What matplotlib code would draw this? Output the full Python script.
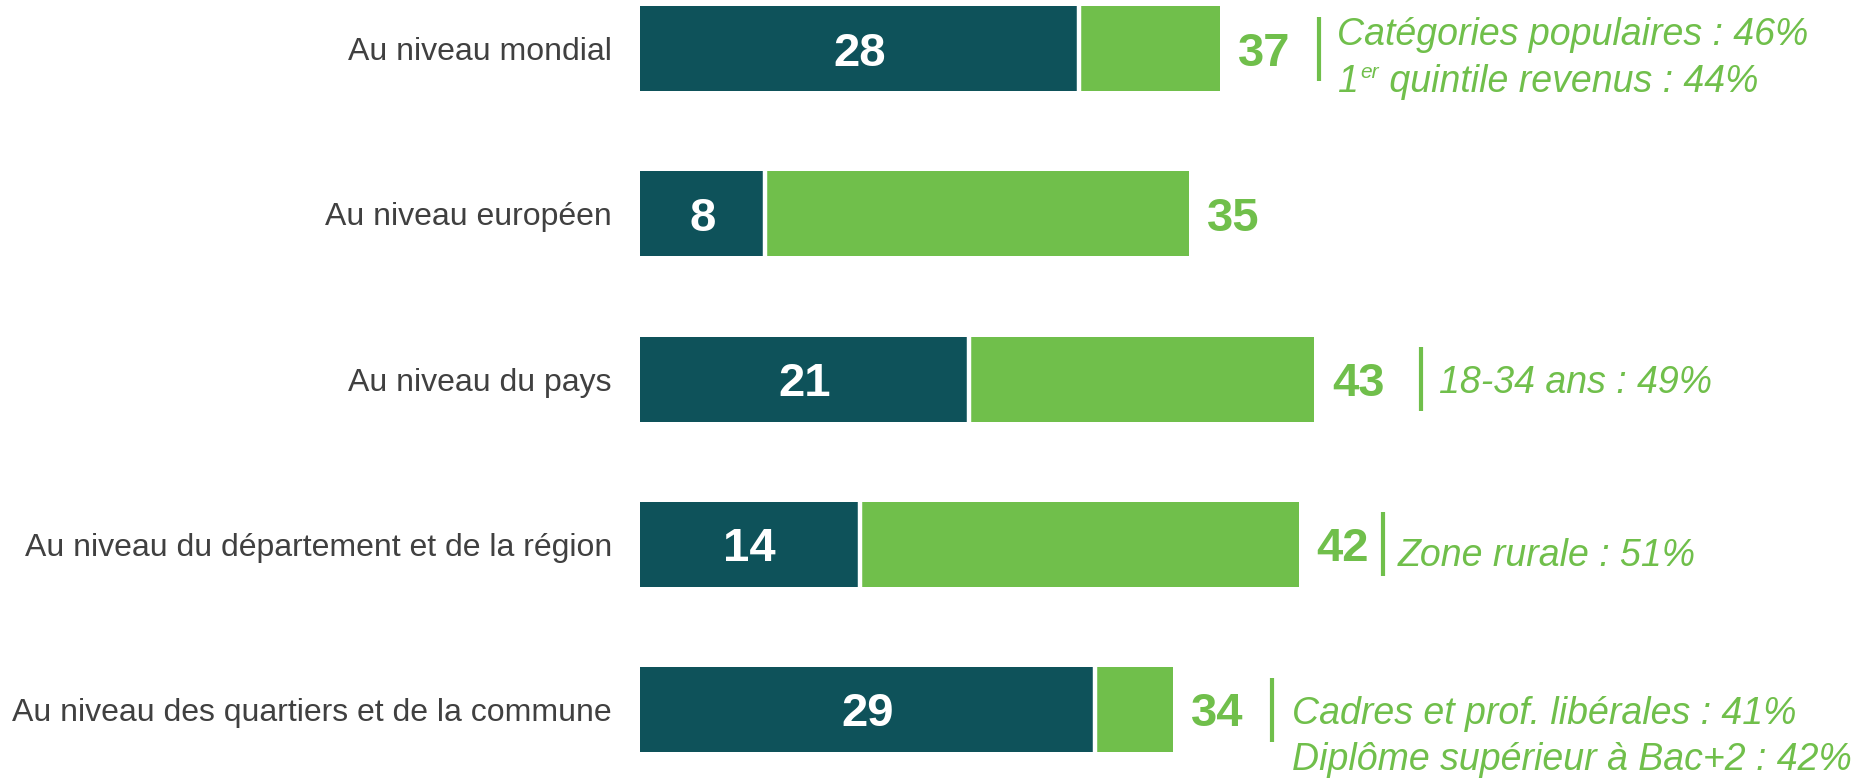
import matplotlib
matplotlib.use("Agg")
import matplotlib.pyplot as plt
from matplotlib.transforms import offset_copy

plt.rcParams['font.family'] = ['Liberation Sans', 'DejaVu Sans']

# ---- data ----
categories = [
    "Au niveau mondial",
    "Au niveau européen",
    "Au niveau du pays",
    "Au niveau du département et de la région",
    "Au niveau des quartiers et de la commune",
]
dark_values = [28, 8, 21, 14, 29]
total_values = [37, 35, 43, 42, 34]
green_values = [t - d for t, d in zip(total_values, dark_values)]
notes = [
    ["Catégories populaires : 46%", "1|er| quintile revenus : 44%"],
    [],
    ["18-34 ans : 49%"],
    ["Zone rurale : 51%"],
    ["Cadres et prof. libérales : 41%", "Diplôme supérieur à Bac+2 : 42%"],
]

# ---- styling / layout ----
DARK = "#0E525A"
GREEN = "#70BF4B"
GREY = "#404040"
W, H = 1853, 778
DPI = 100
px_per_unit = 15.68
left_px = 640
bar_h = 85 / 165.25
# per-row annotation layout (pixels): line offset from bar end, text offset, baselines
line_dx = [99, 0, 107, 84, 99]
text_dx = [117, 0, 125, 99, 119]
baseline_dy = [[3.5, -43.5], [], [-14], [-22], [-14.5, -60.5]]
line_half_px = 32

fig = plt.figure(figsize=(W / DPI, H / DPI), dpi=DPI)
ax = fig.add_axes([left_px / W, 0, 1 - left_px / W, 1])
ax.set_xlim(0, (W - left_px) / px_per_unit)
ax.set_ylim(4 + (H - 709.5) / 165.25, -48.5 / 165.25)
ax.axis("off")

y = list(range(len(categories)))
ax.barh(y, dark_values, height=bar_h, color=DARK, linewidth=0)
ax.barh(y, green_values, left=dark_values, height=bar_h, color=GREEN, linewidth=0)
# white separators between segments
ax.vlines(dark_values, [i - bar_h / 2 for i in y], [i + bar_h / 2 for i in y],
          color="white", linewidth=3.2)

for i, (cat, d, t) in enumerate(zip(categories, dark_values, total_values)):
    # category label
    ax.text(0, i, cat, transform=offset_copy(ax.transData, fig=fig, x=-28, y=0, units='dots'),
            ha="right", va="center_baseline", fontsize=23, color=GREY)
    # dark value
    ax.text(d / 2, i, str(d), ha="center", va="center_baseline", fontsize=34,
            fontweight="bold", color="white")
    # total value
    ax.text(t, i, str(t), transform=offset_copy(ax.transData, fig=fig, x=18, y=0, units='dots'),
            ha="left", va="center_baseline", fontsize=34, fontweight="bold", color=GREEN)
    if notes[i]:
        lt = offset_copy(ax.transData, fig=fig, x=line_dx[i], y=0, units='dots')
        hh = line_half_px / 165.25
        ax.plot([t, t], [i - hh, i + hh], transform=lt, color=GREEN, linewidth=3,
                solid_capstyle="butt")
        for s, dy in zip(notes[i], baseline_dy[i]):
            tt = offset_copy(ax.transData, fig=fig, x=text_dx[i], y=dy, units='dots')
            if "|" in s:
                a, sup, b = s.split("|")
                t1 = ax.text(t, i, a, transform=tt, ha="left", va="baseline",
                             fontsize=27, style="italic", color=GREEN)
                t2 = ax.annotate(sup, xy=(1, i), xycoords=(t1, tt),
                                 xytext=(2, 14), textcoords="offset pixels",
                                 ha="left", va="baseline", fontsize=15,
                                 style="italic", color=GREEN)
                ax.annotate(b, xy=(1, i), xycoords=(t2, tt),
                            xytext=(0, 0), textcoords="offset pixels",
                            ha="left", va="baseline", fontsize=27,
                            style="italic", color=GREEN)
            else:
                ax.text(t, i, s, transform=tt, ha="left", va="baseline",
                        fontsize=27, style="italic", color=GREEN)

fig.savefig("out.png", dpi=DPI)
